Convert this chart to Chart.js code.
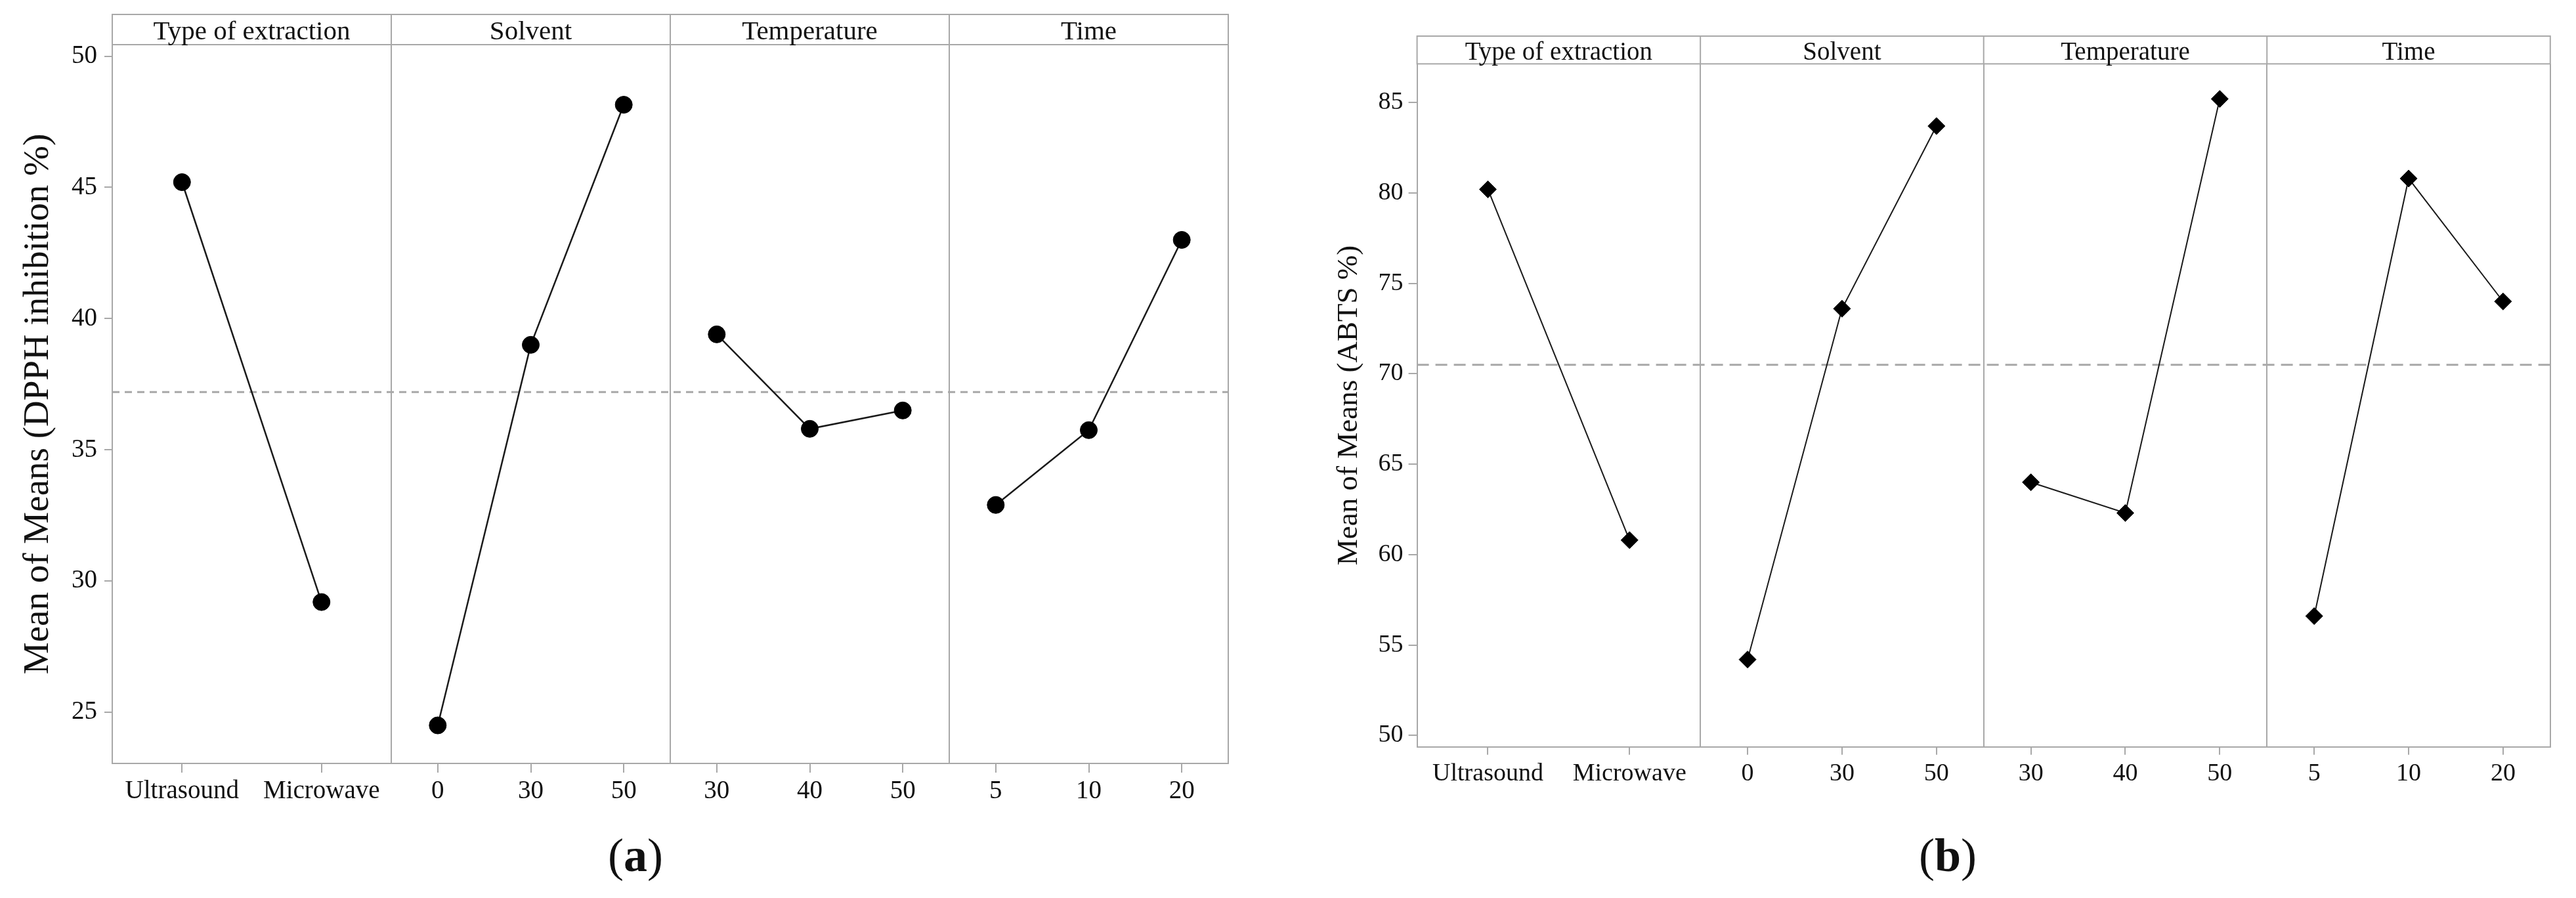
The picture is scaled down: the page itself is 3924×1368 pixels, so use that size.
<!DOCTYPE html>
<html>
<head>
<meta charset="utf-8">
<title>Main effects plots - DPPH and ABTS</title>
<script src="https://cdn.jsdelivr.net/npm/chart.js@4.4.1/dist/chart.umd.min.js"></script>
<style>
  body { margin: 0; background: #fff; }
  #wrap { position: relative; width: 3924px; height: 1368px; }
  canvas { position: absolute; top: 0; }
  #chartA { left: 0; }
  #chartB { left: 1962px; }
</style>
</head>
<body>
<div id="wrap">
  <canvas id="chartA" width="1962" height="1368"></canvas>
  <canvas id="chartB" width="1962" height="1368"></canvas>
</div>
<script>
// factors and levels (same for both plots)
var factorNames = ['Type of extraction', 'Solvent', 'Temperature', 'Time'];
var extractionLevels = ['Ultrasound', 'Microwave'];
var solventLevels = ['0', '30', '50'];
var temperatureLevels = ['30', '40', '50'];
var timeLevels = ['5', '10', '20'];

// (a) mean of means, DPPH inhibition %
var dpphExtraction = [45.2, 29.2];
var dpphSolvent = [24.5, 39.0, 48.15];
var dpphTemperature = [39.4, 35.8, 36.5];
var dpphTime = [32.9, 35.75, 43.0];
var dpphGrandMean = 37.2;
var dpphTicks = [25, 30, 35, 40, 45, 50];

// (b) mean of means, ABTS %
var abtsExtraction = [80.2, 60.8];
var abtsSolvent = [54.2, 73.6, 83.7];
var abtsTemperature = [64.0, 62.3, 85.2];
var abtsTime = [56.6, 80.8, 74.0];
var abtsGrandMean = 70.5;
var abtsTicks = [50, 55, 60, 65, 70, 75, 80, 85];

var levelSets = [extractionLevels, solventLevels, temperatureLevels, timeLevels];

var GRID = '#a8a8a8';
var FONT = "'Liberation Serif', 'Times New Roman', serif";
Chart.defaults.font.family = FONT;
Chart.defaults.color = '#111';

// each factor gets one panel of width 1 on the x scale
function levelPos(f, j) {
	return f + (j + 0.5) / levelSets[f].length;
}

// header strip with factor names + panel letter
var facetStrip = {
	id: 'facetStrip',
	afterDraw: function(chart, args, opts) {
		var ctx = chart.ctx, area = chart.chartArea, xs = chart.scales.x;
		var top = area.top - opts.height;
		ctx.save();
		ctx.strokeStyle = GRID;
		ctx.lineWidth = 2;
		ctx.strokeRect(area.left, top, area.right - area.left, opts.height);
		ctx.font = opts.fontSize + 'px ' + FONT;
		ctx.fillStyle = '#111';
		ctx.textAlign = 'center';
		ctx.textBaseline = 'alphabetic';
		for (var i = 0; i < factorNames.length; i++) {
			var x0 = xs.getPixelForValue(i), x1 = xs.getPixelForValue(i + 1);
			if (i > 0) {
				ctx.beginPath();
				ctx.moveTo(x0, top);
				ctx.lineTo(x0, area.top);
				ctx.stroke();
			}
			ctx.fillText(factorNames[i], (x0 + x1) / 2, area.top - opts.baselineGap);
		}

		// "(a)" / "(b)" with a bold letter
		var reg = opts.labelSize + 'px ' + FONT, bold = 'bold ' + opts.labelSize + 'px ' + FONT;
		ctx.textAlign = 'left';
		ctx.font = reg;
		var wp = ctx.measureText('(').width, wc = ctx.measureText(')').width;
		ctx.font = bold;
		var wl = ctx.measureText(opts.letter).width;
		var x = opts.labelX - (wp + wl + wc) / 2;
		ctx.font = reg;
		ctx.fillText('(', x, opts.labelY);
		ctx.font = bold;
		ctx.fillText(opts.letter, x + wp, opts.labelY);
		ctx.font = reg;
		ctx.fillText(')', x + wp + wl, opts.labelY);
		ctx.restore();
	}
};

function makeChart(id, s) {
	var datasets = [];
	var tickPos = [], tickText = [];
	for (var f = 0; f < s.means.length; f++) {
		var pts = [];
		for (var j = 0; j < s.means[f].length; j++) {
			pts.push({x: levelPos(f, j), y: s.means[f][j]});
			tickPos.push(levelPos(f, j));
			tickText.push(levelSets[f][j]);
		}
		datasets.push({
			data: pts,
			borderColor: '#1a1a1a',
			backgroundColor: '#000',
			borderWidth: s.lineWidth,
			pointStyle: s.marker,
			pointRadius: s.markerSize,
			pointBorderColor: '#000',
			pointBorderWidth: 1
		});
	}
	// grand mean reference line
	datasets.push({
		data: [{x: 0, y: s.grandMean}, {x: 4, y: s.grandMean}],
		borderColor: GRID,
		borderWidth: 3,
		borderDash: s.dash,
		pointRadius: 0
	});

	return new Chart(document.getElementById(id), {
		type: 'line',
		data: {datasets: datasets},
		plugins: [facetStrip],
		options: {
			responsive: false,
			animation: false,
			devicePixelRatio: 1,
			layout: {padding: {top: s.areaTop, right: s.padRight, left: 0, bottom: 0}},
			plugins: {
				legend: {display: false},
				tooltip: {enabled: false},
				facetStrip: {
					height: s.stripHeight, fontSize: s.stripFont, baselineGap: s.stripGap,
					letter: s.letter, labelX: s.labelX, labelY: 1327, labelSize: 72
				}
			},
			scales: {
				x: {
					type: 'linear', min: 0, max: 4,
					afterBuildTicks: function(sc) {
						sc.ticks = tickPos.map(function(v) { return {value: v}; });
					},
					ticks: {
						callback: function(v, i) { return tickText[i]; },
						autoSkip: false, maxRotation: 0,
						padding: s.xTickPad, font: {size: s.tickFont}, color: '#111'
					},
					grid: {drawOnChartArea: false, tickLength: s.xTickLen, color: GRID, lineWidth: 2},
					border: {color: GRID, width: 2},
					afterFit: function(sc) { sc.height = s.xAxisHeight; }
				},
				xPanels: {
					type: 'linear', position: 'bottom', min: 0, max: 4,
					afterBuildTicks: function(sc) {
						sc.ticks = [0, 1, 2, 3, 4].map(function(v) { return {value: v}; });
					},
					ticks: {display: false},
					grid: {drawOnChartArea: true, drawTicks: false, color: GRID, lineWidth: 2},
					border: {display: false},
					afterFit: function(sc) { sc.height = 0; }
				},
				y: {
					type: 'linear', min: s.yMin, max: s.yMax,
					afterBuildTicks: function(sc) {
						sc.ticks = s.yTicks.map(function(v) { return {value: v}; });
					},
					ticks: {padding: s.yTickPad, font: {size: s.tickFont}, color: '#111'},
					grid: {drawOnChartArea: false, tickLength: s.yTickLen, color: GRID, lineWidth: 2},
					border: {color: GRID, width: 2},
					title: {
						display: true, text: s.yTitle, color: '#111',
						font: {size: s.yTitleFont}, padding: {top: s.yTitlePad, bottom: 0}
					},
					afterFit: function(sc) { sc.width = s.yAxisWidth; }
				}
			}
		}
	});
}

makeChart('chartA', {
	means: [dpphExtraction, dpphSolvent, dpphTemperature, dpphTime],
	grandMean: dpphGrandMean, yTicks: dpphTicks, yMin: 23.05, yMax: 50.44,
	yTitle: 'Mean of Means (DPPH inhibition %)', yTitleFont: 55, yTitlePad: 26,
	yAxisWidth: 171, yTickLen: 12, yTickPad: 11,
	xAxisHeight: 205, xTickLen: 14, xTickPad: 5, tickFont: 39,
	areaTop: 68, padRight: 91,
	stripHeight: 46, stripFont: 41, stripGap: 8,
	lineWidth: 2.5, marker: 'circle', markerSize: 13, dash: [11, 8],
	letter: 'a', labelX: 968
});

makeChart('chartB', {
	means: [abtsExtraction, abtsSolvent, abtsTemperature, abtsTime],
	grandMean: abtsGrandMean, yTicks: abtsTicks, yMin: 49.37, yMax: 87.14,
	yTitle: 'Mean of Means (ABTS %)', yTitleFont: 45, yTitlePad: 66,
	yAxisWidth: 196.6, yTickLen: 13, yTickPad: 8,
	xAxisHeight: 230.3, xTickLen: 12, xTickPad: 7, tickFont: 38,
	areaTop: 97.3, padRight: 39.2,
	stripHeight: 42.3, stripFont: 39, stripGap: 6,
	lineWidth: 2, marker: 'rectRot', markerSize: 13, dash: [18, 10],
	letter: 'b', labelX: 1005
});
</script>
</body>
</html>
